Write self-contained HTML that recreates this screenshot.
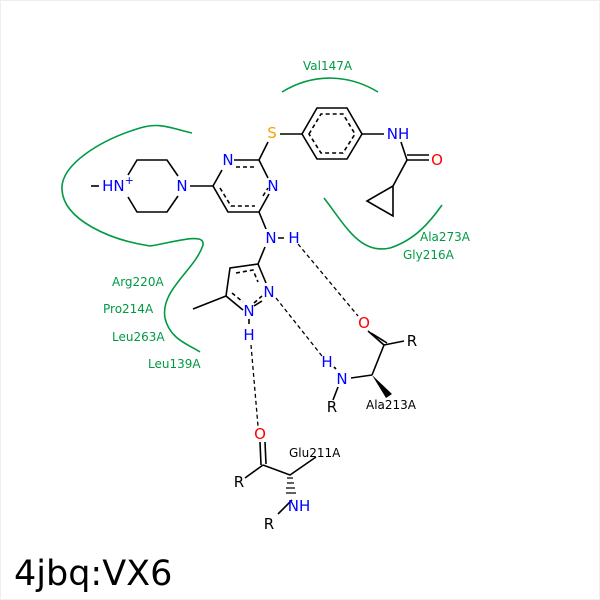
<!DOCTYPE html>
<html><head><style>html,body{margin:0;padding:0;background:#fff}svg{display:block}</style></head><body>
<svg width="600" height="600" viewBox="0 0 600 600" xmlns="http://www.w3.org/2000/svg" font-family="DejaVu Sans, sans-serif">
<rect x="0.5" y="0.5" width="599" height="599" fill="#fff" stroke="#eee"/>
<g fill="none" stroke="#009a44" stroke-width="1.6">
<path d="M192,133 C170,128 160,122 140,128 C100,140 60,165 62,190 C64,220 110,240 150,246 C175,242 205,232 203,245 C195,270 160,290 165,318 C170,340 190,345 200,352"/>
<path d="M282,92 C315,72 350,75 378,92"/>
<path d="M324,198 C345,225 360,255 390,248 C415,240 430,222 442,205"/>
</g>
<g font-size="12" fill="#009a44">
<text x="303" y="70">Val147A</text>
<text x="420" y="241">Ala273A</text>
<text x="403" y="259">Gly216A</text>
<text x="112" y="286">Arg220A</text>
<text x="103" y="313">Pro214A</text>
<text x="112" y="341">Leu263A</text>
<text x="148" y="368">Leu139A</text>
</g>
<g stroke="#000" stroke-width="1.6" fill="none">
<path d="M234,160 L259,160 L268,178 M269,194 L259,212 L228,212 L213,186 L222,170"/>
<path d="M236,167 L255,167 M220,188 L231,206 L255,206 M263,196 L268,188" stroke-dasharray="4,3"/>
<path d="M259,160 L268,142 M280,134 L302,134"/>
<path d="M302,134 L317,108 L347,108 L362,134 L347,159 L317,159 Z"/>
<path d="M309,134 L321,114 L343,114 L355,134 L343,153 L321,153 Z" stroke-dasharray="4,3"/>
<path d="M362,134 L384,134 M401,142 L407,160 L393,186 M407,160 L429,160 M407,155 L429,155"/>
<path d="M393,186 L367,201 L393,216 Z"/>
<path d="M213,186 L190,186 M178,176 L167,160 L137,160 L128,175 M128,197 L137,212 L167,212 L178,196"/>
<path d="M91,186 L99,186"/>
<path d="M259,212 L266,229 M278,238 L284,238 M265,247 L258,264"/>
<path d="M258,264 L266,283 M262,301 L254,306 M243,310 L226,296 L230,268 L258,264"/>
<path d="M236,273 L253,270 L258,282 M232,293 L243,302 M254,303 L262,296" stroke-dasharray="4,3"/>
<path d="M226,296 L193,309 M249,319 L249,324"/>
<path d="M368,331 L384,345 L372,375 M371,333 L387,343 M384,345 L404,341 M372,375 L351,378 M338,387 L333,400 M336,369 L334,367"/>
<path d="M260,442 L261,465 M265,442 L266,464 M263,465 L245,478 M263,465 L290,475 L316,457 M292,500 L278,514"/>
</g>
<polygon points="372,375 386,398 392,394" fill="#000"/>
<g stroke="#000" stroke-width="1.3">
<path d="M287,478 L293,478 M287,483 L294,483 M286,488 L295,488 M286,493 L296,493"/>
</g>
<g stroke="#000" stroke-width="1.3" stroke-dasharray="4,3" fill="none">
<path d="M298,244 L358,316"/>
<path d="M276,298 L322,356"/>
<path d="M251,345 L258,426"/>
</g>
<g font-size="15" text-anchor="middle" dominant-baseline="central">
<text x="272" y="133" fill="#f4a300">S</text>
<text x="228" y="160" fill="#00f">N</text>
<text x="273" y="186" fill="#00f">N</text>
<text x="182" y="186" fill="#00f">N</text>
<text x="118" y="186" fill="#00f">HN<tspan dy="-6" font-size="11">+</tspan></text>
<text x="398" y="134" fill="#00f">NH</text>
<text x="437" y="160" fill="#f00">O</text>
<text x="271" y="238" fill="#00f">N</text>
<text x="294" y="238" fill="#00f">H</text>
<text x="269" y="292" fill="#00f">N</text>
<text x="249" y="311" fill="#00f">N</text>
<text x="249" y="335" fill="#00f">H</text>
<text x="364" y="323" fill="#f00">O</text>
<text x="412" y="341" fill="#000">R</text>
<text x="342" y="379" fill="#00f">N</text>
<text x="327" y="362" fill="#00f">H</text>
<text x="332" y="407" fill="#000">R</text>
<text x="260" y="434" fill="#f00">O</text>
<text x="239" y="482" fill="#000">R</text>
<text x="299" y="506" fill="#00f">NH</text>
<text x="269" y="524" fill="#000">R</text>
</g>
<text x="366" y="409" font-size="12" fill="#000">Ala213A</text>
<text x="289" y="457" font-size="12" fill="#000">Glu211A</text>
<text x="14" y="585" font-size="35" fill="#000">4jbq:VX6</text>
</svg>
</body></html>
